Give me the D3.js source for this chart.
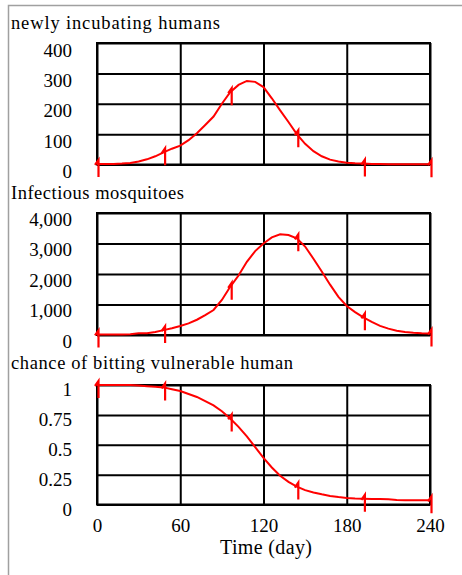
<html>

<head>
    <title>Dengue model</title>
    <script src='https://d3js.org/d3.v7.min.js'></script>
    <style>
        body { margin: 0; background: #fff; }
        text { font-family: "Liberation Serif", "Times New Roman", serif; fill: #000; }
        .grid line, .grid path { stroke: #000; stroke-width: 2; }
    </style>
</head>

<body>
    <svg id="chart"></svg>
    <script>
        // time axis (days), sampled every 6 days
        var days = d3.range(0, 241, 6);
        var xTicks = [0, 60, 120, 180, 240];
        var markerDays = [0, 48, 96, 144, 192, 240];

        var titles = ["newly incubating humans", "Infectious mosquitoes", "chance of bitting vulnerable human"];

        var incubating = [2, 2, 2, 3, 5, 10, 17, 27, 40, 52, 62, 80, 103, 130, 158, 200, 238, 262, 275, 272,
            255, 218, 178, 140, 100, 68, 44, 27, 16, 10, 6, 4, 3, 2, 2, 1, 1, 1, 1, 1, 1];
        var mosquitoes = [20, 20, 20, 20, 25, 55, 60, 100, 160, 220, 295, 380, 500, 650, 820, 1150, 1580, 1950, 2400, 2750,
            3000, 3200, 3300, 3280, 3170, 2900, 2500, 2080, 1650, 1250, 950, 750, 580, 430, 300, 210, 140, 100, 70, 55, 50];
        var chance = [1, 1, 1, 1, 1, 0.995, 0.99, 0.985, 0.98, 0.965, 0.95, 0.925, 0.9, 0.865, 0.83, 0.78, 0.72, 0.65, 0.57, 0.48,
            0.39, 0.31, 0.24, 0.19, 0.15, 0.12, 0.1, 0.085, 0.072, 0.062, 0.055, 0.05, 0.048, 0.046, 0.045, 0.043, 0.037, 0.036, 0.035, 0.035, 0.035];

        var ticks1 = [0, 100, 200, 300, 400];
        var ticks2 = [0, 1000, 2000, 3000, 4000];
        var ticks3 = [0, 0.25, 0.5, 0.75, 1];

        var panels = [
            { title: titles[0], values: incubating, ticks: ticks1, fmt: d3.format("d"), top: 43, bottom: 164.5, titleY: 28.5, dy: 13, tw: 209 },
            { title: titles[1], values: mosquitoes, ticks: ticks2, fmt: d3.format(","), top: 213, bottom: 335, titleY: 199, dy: 12, tw: 173 },
            { title: titles[2], values: chance, ticks: ticks3, fmt: function (d) { return String(d); }, top: 385, bottom: 504.5, titleY: 369, dy: 10.5, tw: 282 }
        ];

        var width = 462, height = 575;
        var svg = d3.select("#chart").attr("width", width).attr("height", height);

        // outer frame
        svg.append("rect")
            .attr("x", 8.5).attr("y", 5.5)
            .attr("width", 500).attr("height", 600)
            .attr("fill", "none").attr("stroke", "#a0a0a0").attr("stroke-width", 1.5);

        var x = d3.scaleLinear().domain([0, 240]).range([97, 430]);

        panels.forEach(function (p, pi) {
            var y = d3.scaleLinear().domain([p.ticks[0], p.ticks[p.ticks.length - 1]]).range([p.bottom, p.top]);
            var h = p.bottom - p.top;

            svg.append("text")
                .attr("x", 11).attr("y", p.titleY)
                .attr("font-size", 18.5)
                .attr("textLength", p.tw)
                .text(p.title);

            // horizontal grid + labels
            var gy = svg.append("g")
                .attr("class", "grid")
                .attr("transform", "translate(97,0)")
                .call(d3.axisLeft(y).tickValues(p.ticks).tickFormat(p.fmt)
                    .tickSizeInner(-(430 - 97)).tickSizeOuter(0).tickPadding(25));
            gy.select(".domain").remove();
            gy.selectAll("text").attr("font-size", 19).attr("dy", null).attr("y", p.dy)
                .style("font-family", "'Liberation Serif', serif").attr("fill", "#000");

            // vertical grid (labels only on last panel)
            var gx = svg.append("g")
                .attr("class", "grid")
                .attr("transform", "translate(0," + p.bottom + ")")
                .call(d3.axisBottom(x).tickValues(xTicks).tickSizeInner(-h).tickSizeOuter(0).tickPadding(14));
            gx.select(".domain").remove();
            if (pi < 2) {
                gx.selectAll("text").remove();
            } else {
                gx.selectAll("text").attr("font-size", 19).attr("dy", "0.71em")
                    .style("font-family", "'Liberation Serif', serif").attr("fill", "#000");
            }

            // frame
            svg.append("rect")
                .attr("x", 97).attr("y", p.top)
                .attr("width", 430 - 97).attr("height", h)
                .attr("fill", "none").attr("stroke", "#000").attr("stroke-width", 2);

            // series
            var line = d3.line()
                .x(function (d, i) { return x(days[i]); })
                .y(function (d) { return y(d); });
            svg.append("path")
                .datum(p.values)
                .attr("d", line)
                .attr("fill", "none")
                .attr("stroke", "#ff0000")
                .attr("stroke-width", 2);

            // "1" markers
            svg.append("g").selectAll("path")
                .data(markerDays)
                .enter()
                .append("path")
                .attr("d", function (t) {
                    var mx = x(t) + 1.5, my = y(p.values[days.indexOf(t)]);
                    return "M" + (mx - 3.5) + "," + (my + 1) + "L" + mx + "," + (my - 4) + "L" + mx + "," + (my + 13);
                })
                .attr("fill", "none")
                .attr("stroke", "#ff0000")
                .attr("stroke-width", 2.2);
        });

        svg.append("text")
            .attr("x", 266).attr("y", 554)
            .attr("text-anchor", "middle")
            .attr("font-size", 20)
            .attr("textLength", 92)
            .text("Time (day)");
    </script>
</body>

</html>
